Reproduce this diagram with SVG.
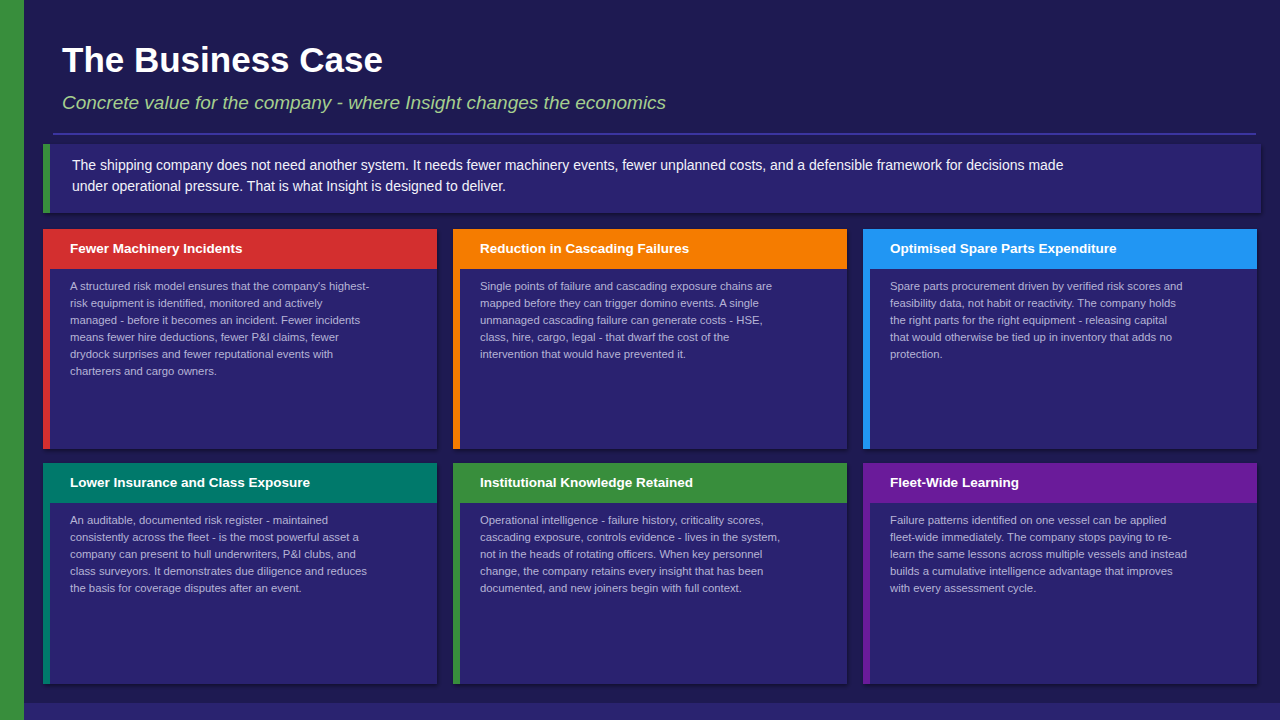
<svg xmlns="http://www.w3.org/2000/svg" width="1280" height="720" viewBox="0 0 1280 720">
<defs>
<style>
.ttl{font-family:"Liberation Sans",Arial,sans-serif;font-weight:bold;fill:#fff}
.sub{font-family:"Liberation Sans",Arial,sans-serif;font-style:italic;fill:#a5cf8e;font-size:19px}
.intro{font-family:"Liberation Sans",Arial,sans-serif;fill:#f2f2fa;font-size:14px}
.card{fill:#2a2370}
.hd{font-family:"Liberation Sans",Arial,sans-serif;font-weight:bold;fill:#fff;font-size:13.5px}
.bd{font-family:"Liberation Sans",Arial,sans-serif;fill:#b6b4d6;font-size:11.3px}
</style>
<filter id="sh" x="-5%" y="-5%" width="110%" height="115%"><feDropShadow dx="1" dy="2" stdDeviation="2" flood-color="#000" flood-opacity="0.45"/></filter>
</defs>
<rect width="1280" height="720" fill="#1e1a52"/>
<rect x="0" y="0" width="24" height="720" fill="#388e3c"/>
<rect x="24" y="703" width="1256" height="17" fill="#2a2370"/>
<text class="ttl" x="62" y="72" font-size="35">The Business Case</text>
<text class="sub" x="62" y="109">Concrete value for the company - where Insight changes the economics</text>
<rect x="53" y="133" width="1203" height="2" fill="#3b35a0"/>
<g id="intro">
<rect x="43" y="144" width="1218" height="69" class="card" filter="url(#sh)"/>
<rect x="43" y="144" width="7" height="69" fill="#388e3c"/>
<text class="intro" x="72" y="170">The shipping company does not need another system. It needs fewer machinery events, fewer unplanned costs, and a defensible framework for decisions made</text>
<text class="intro" x="72" y="191">under operational pressure. That is what Insight is designed to deliver.</text>
</g>
<g id="card1">
<rect x="43" y="229" width="394" height="220" class="card" filter="url(#sh)"/>
<rect x="43" y="229" width="7" height="220" fill="#d32f2f"/>
<rect x="50" y="229" width="387" height="40" fill="#d32f2f"/>
<text class="hd" x="70" y="253">Fewer Machinery Incidents</text>
<text class="bd" x="70" y="290"><tspan x="70">A structured risk model ensures that the company's highest-</tspan><tspan x="70" dy="17">risk equipment is identified, monitored and actively</tspan><tspan x="70" dy="17">managed - before it becomes an incident. Fewer incidents</tspan><tspan x="70" dy="17">means fewer hire deductions, fewer P&amp;I claims, fewer</tspan><tspan x="70" dy="17">drydock surprises and fewer reputational events with</tspan><tspan x="70" dy="17">charterers and cargo owners.</tspan></text>
</g>
<g id="card2">
<rect x="453" y="229" width="394" height="220" class="card" filter="url(#sh)"/>
<rect x="453" y="229" width="7" height="220" fill="#f57c00"/>
<rect x="460" y="229" width="387" height="40" fill="#f57c00"/>
<text class="hd" x="480" y="253">Reduction in Cascading Failures</text>
<text class="bd" x="480" y="290"><tspan x="480">Single points of failure and cascading exposure chains are</tspan><tspan x="480" dy="17">mapped before they can trigger domino events. A single</tspan><tspan x="480" dy="17">unmanaged cascading failure can generate costs - HSE,</tspan><tspan x="480" dy="17">class, hire, cargo, legal - that dwarf the cost of the</tspan><tspan x="480" dy="17">intervention that would have prevented it.</tspan></text>
</g>
<g id="card3">
<rect x="863" y="229" width="394" height="220" class="card" filter="url(#sh)"/>
<rect x="863" y="229" width="7" height="220" fill="#2196f3"/>
<rect x="870" y="229" width="387" height="40" fill="#2196f3"/>
<text class="hd" x="890" y="253">Optimised Spare Parts Expenditure</text>
<text class="bd" x="890" y="290"><tspan x="890">Spare parts procurement driven by verified risk scores and</tspan><tspan x="890" dy="17">feasibility data, not habit or reactivity. The company holds</tspan><tspan x="890" dy="17">the right parts for the right equipment - releasing capital</tspan><tspan x="890" dy="17">that would otherwise be tied up in inventory that adds no</tspan><tspan x="890" dy="17">protection.</tspan></text>
</g>
<g id="card4">
<rect x="43" y="463" width="394" height="221" class="card" filter="url(#sh)"/>
<rect x="43" y="463" width="7" height="221" fill="#00796b"/>
<rect x="50" y="463" width="387" height="40" fill="#00796b"/>
<text class="hd" x="70" y="487">Lower Insurance and Class Exposure</text>
<text class="bd" x="70" y="524"><tspan x="70">An auditable, documented risk register - maintained</tspan><tspan x="70" dy="17">consistently across the fleet - is the most powerful asset a</tspan><tspan x="70" dy="17">company can present to hull underwriters, P&amp;I clubs, and</tspan><tspan x="70" dy="17">class surveyors. It demonstrates due diligence and reduces</tspan><tspan x="70" dy="17">the basis for coverage disputes after an event.</tspan></text>
</g>
<g id="card5">
<rect x="453" y="463" width="394" height="221" class="card" filter="url(#sh)"/>
<rect x="453" y="463" width="7" height="221" fill="#388e3c"/>
<rect x="460" y="463" width="387" height="40" fill="#388e3c"/>
<text class="hd" x="480" y="487">Institutional Knowledge Retained</text>
<text class="bd" x="480" y="524"><tspan x="480">Operational intelligence - failure history, criticality scores,</tspan><tspan x="480" dy="17">cascading exposure, controls evidence - lives in the system,</tspan><tspan x="480" dy="17">not in the heads of rotating officers. When key personnel</tspan><tspan x="480" dy="17">change, the company retains every insight that has been</tspan><tspan x="480" dy="17">documented, and new joiners begin with full context.</tspan></text>
</g>
<g id="card6">
<rect x="863" y="463" width="394" height="221" class="card" filter="url(#sh)"/>
<rect x="863" y="463" width="7" height="221" fill="#6a1b9a"/>
<rect x="870" y="463" width="387" height="40" fill="#6a1b9a"/>
<text class="hd" x="890" y="487">Fleet-Wide Learning</text>
<text class="bd" x="890" y="524"><tspan x="890">Failure patterns identified on one vessel can be applied</tspan><tspan x="890" dy="17">fleet-wide immediately. The company stops paying to re-</tspan><tspan x="890" dy="17">learn the same lessons across multiple vessels and instead</tspan><tspan x="890" dy="17">builds a cumulative intelligence advantage that improves</tspan><tspan x="890" dy="17">with every assessment cycle.</tspan></text>
</g>
</svg>
